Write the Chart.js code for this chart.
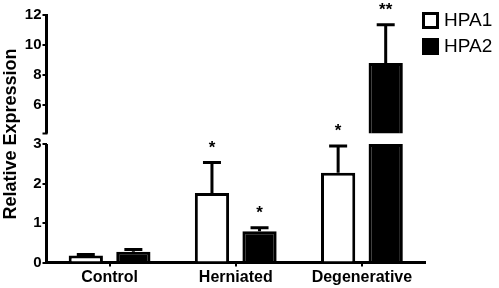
<!DOCTYPE html>
<html>
<head>
<meta charset="utf-8">
<script src="https://cdn.jsdelivr.net/npm/chart.js@4"></script>
<style>
  body { margin: 0; background: #fff; }
  #wrap { width: 499px; height: 288px; position: relative; }
</style>
</head>
<body>
<div id="wrap"><canvas id="chart"></canvas></div>
<script>
// values
const categories = ['Control', 'Herniated', 'Degenerative'];
const hpa1 = [0.18, 1.76, 2.27];
const hpa1Err = [0.02, 0.77, 0.68];
const hpa2 = [0.27, 0.79, 8.8];
const hpa2Err = [0.06, 0.09, 2.55];
const hpa1Sig = ['', '*', '*'];
const hpa2Sig = ['', '*', '**'];
const lowerTicks = [0, 1, 2, 3];
const upperTicks = [6, 8, 10, 12];

// broken axis: lower part 0-3, upper part starts again at 4.1
const breakLow = 3;
const breakHigh = 4.1;
const FONT = "'Liberation Sans', Arial, sans-serif";

const lowerPart = arr => arr.map(v => Math.min(v, breakLow));
const upperPart = arr => arr.map(v => v > breakHigh ? [breakHigh, v] : null);

const barOpts = {
  categoryPercentage: 0.754,
  barPercentage: 0.72,
  borderColor: '#000',
  borderWidth: 3
};

const extras = {
  id: 'extras',
  afterDatasetsDraw(chart) {
    const ctx = chart.ctx;
    const area = chart.chartArea;
    const yLo = chart.scales.y;
    const yHi = chart.scales.y2;
    const pix = v => v > breakLow + 0.5 ? yHi.getPixelForValue(v) : yLo.getPixelForValue(v);
    ctx.save();
    ctx.strokeStyle = '#000';
    ctx.fillStyle = '#000';

    // y axis lines (two pieces)
    ctx.lineWidth = 3;
    ctx.beginPath();
    ctx.moveTo(area.left, yLo.getPixelForValue(0) + 1.5);
    ctx.lineTo(area.left, yLo.getPixelForValue(breakLow));
    ctx.moveTo(area.left, yHi.getPixelForValue(12) - 1);
    ctx.lineTo(area.left, yHi.getPixelForValue(breakHigh));
    ctx.stroke();
    ctx.lineWidth = 2;
    ctx.beginPath();
    ctx.moveTo(area.left - 4, yHi.getPixelForValue(breakHigh));
    ctx.lineTo(area.left + 1, yHi.getPixelForValue(breakHigh));
    ctx.stroke();

    // error bars + significance
    [[0, hpa1, hpa1Err, hpa1Sig], [1, hpa2, hpa2Err, hpa2Sig]].forEach(([di, vals, errs, sig]) => {
      const meta = chart.getDatasetMeta(di);
      vals.forEach((v, i) => {
        const x = meta.data[i].x;
        const yTop = pix(v);
        const yCap = pix(v + errs[i]);
        ctx.lineWidth = 3;
        ctx.beginPath();
        ctx.moveTo(x, yTop);
        ctx.lineTo(x, yCap);
        ctx.moveTo(x - 9, yCap);
        ctx.lineTo(x + 9, yCap);
        ctx.stroke();
        if (sig[i]) {
          ctx.font = 'bold 17px ' + FONT;
          ctx.textAlign = 'center';
          ctx.textBaseline = 'alphabetic';
          ctx.fillText(sig[i], x, yCap - 10);
        }
      });
    });

    // legend
    ctx.lineWidth = 3;
    ctx.strokeRect(423.5, 13.5, 14, 14);
    ctx.fillRect(422, 38, 17, 17);
    ctx.font = '19px ' + FONT;
    ctx.textAlign = 'left';
    ctx.textBaseline = 'middle';
    ctx.fillText('HPA1', 444, 21);
    ctx.fillText('HPA2', 444, 47);

    // y title
    ctx.translate(11, 134);
    ctx.rotate(-Math.PI / 2);
    ctx.font = 'bold 18px ' + FONT;
    ctx.textAlign = 'center';
    ctx.textBaseline = 'middle';
    ctx.fillText('Relative Expression', 0, 0);
    ctx.restore();
  }
};

new Chart(document.getElementById('chart'), {
  type: 'bar',
  data: {
    labels: categories,
    datasets: [
      { label: 'HPA1', data: lowerPart(hpa1), yAxisID: 'y', stack: 'HPA1', backgroundColor: '#fff', ...barOpts },
      { label: 'HPA2', data: lowerPart(hpa2), yAxisID: 'y', stack: 'HPA2', backgroundColor: '#000', ...barOpts },
      { label: 'HPA1 upper', data: upperPart(hpa1), yAxisID: 'y2', stack: 'HPA1', backgroundColor: '#fff', ...barOpts },
      { label: 'HPA2 upper', data: upperPart(hpa2), yAxisID: 'y2', stack: 'HPA2', backgroundColor: '#000', ...barOpts }
    ]
  },
  options: {
    responsive: true,
    maintainAspectRatio: false,
    animation: false,
    layout: { padding: { top: 15, right: 74, bottom: 0, left: 0 } },
    plugins: { legend: { display: false }, tooltip: { enabled: false } },
    scales: {
      x: {
        stacked: true,
        grid: { offset: false, drawOnChartArea: false, tickLength: 4, color: '#000', lineWidth: 2 },
        border: { color: '#000', width: 3 },
        ticks: { color: '#000', font: { family: FONT, size: 16, weight: 'bold' }, padding: 1 },
        afterFit: s => { s.height = 25.5; }
      },
      y: {
        stack: 'v',
        stackWeight: 118.5,
        stacked: false,
        min: 0,
        max: breakLow,
        grid: { drawOnChartArea: false, tickLength: 4, color: '#000', lineWidth: 2 },
        border: { display: false },
        ticks: { color: '#000', font: { family: FONT, size: 15, weight: 'bold' }, padding: 1 },
        afterBuildTicks: s => { s.ticks = lowerTicks.map(v => ({ value: v })); },
        afterFit: s => { s.width = 46.5; }
      },
      y2: {
        stack: 'v',
        stackWeight: 129,
        stacked: false,
        min: 3.4,
        max: 12,
        grid: { drawOnChartArea: false, tickLength: 4, color: '#000', lineWidth: 2 },
        border: { display: false },
        ticks: { color: '#000', font: { family: FONT, size: 15, weight: 'bold' }, padding: 1 },
        afterBuildTicks: s => { s.ticks = upperTicks.map(v => ({ value: v })); },
        afterFit: s => { s.width = 46.5; }
      }
    }
  },
  plugins: [extras]
});
</script>
</body>
</html>
